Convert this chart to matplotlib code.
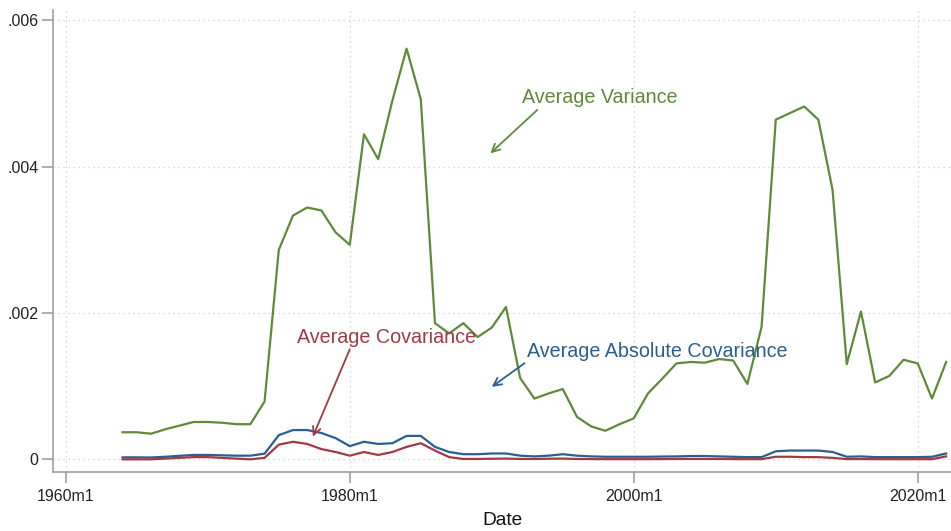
import numpy as np
import matplotlib.pyplot as plt

plt.rcParams['font.family'] = ['Liberation Sans', 'DejaVu Sans']

################################
# Data (annual)
################################
years = list(range(1964, 2023))

avg_variance = [
    0.00037, 0.00037, 0.00035, 0.00041, 0.00046, 0.00051, 0.00051, 0.00050, 0.00048, 0.00048,  # 1964-1973
    0.00079, 0.00286, 0.00333, 0.00344, 0.00340, 0.00310, 0.00293, 0.00444, 0.00410, 0.00490,  # 1974-1983
    0.00561, 0.00492, 0.00186, 0.00172, 0.00186, 0.00167, 0.00180, 0.00208, 0.00111, 0.00083,  # 1984-1993
    0.00090, 0.00096, 0.00058, 0.00045, 0.00039, 0.00048, 0.00056, 0.00090, 0.00110, 0.00131,  # 1994-2003
    0.00133, 0.00132, 0.00137, 0.00135, 0.00103, 0.00181, 0.00464, 0.00473, 0.00482, 0.00464,  # 2004-2013
    0.00368, 0.00130, 0.00202, 0.00105, 0.00114, 0.00136, 0.00131, 0.00083, 0.00133,           # 2014-2022
]

avg_abs_covariance = [
    0.000027, 0.000027, 0.000025, 0.000035, 0.000048, 0.000060, 0.000060, 0.000055, 0.000050, 0.000050,
    0.000077, 0.000330, 0.000400, 0.000400, 0.000360, 0.000290, 0.000180, 0.000240, 0.000210, 0.000220,
    0.000320, 0.000320, 0.000170, 0.000100, 0.000070, 0.000070, 0.000080, 0.000080, 0.000050, 0.000040,
    0.000050, 0.000070, 0.000050, 0.000040, 0.000035, 0.000035, 0.000035, 0.000035, 0.000038, 0.000040,
    0.000045, 0.000045, 0.000040, 0.000035, 0.000030, 0.000030, 0.000110, 0.000120, 0.000120, 0.000120,
    0.000100, 0.000035, 0.000040, 0.000030, 0.000030, 0.000030, 0.000030, 0.000035, 0.000080,
]

avg_covariance = [
    0.000000, 0.000000, 0.000000, 0.000010, 0.000020, 0.000030, 0.000030, 0.000020, 0.000010, 0.000000,
    0.000020, 0.000200, 0.000240, 0.000210, 0.000140, 0.000100, 0.000050, 0.000100, 0.000060, 0.000100,
    0.000170, 0.000220, 0.000120, 0.000030, 0.000005, 0.000005, 0.000008, 0.000010, 0.000005, 0.000005,
    0.000008, 0.000010, 0.000005, 0.000003, 0.000002, 0.000002, 0.000002, 0.000002, 0.000003, 0.000005,
    0.000005, 0.000005, 0.000005, 0.000003, 0.000002, 0.000002, 0.000035, 0.000035, 0.000030, 0.000030,
    0.000020, 0.000003, 0.000003, 0.000002, 0.000002, 0.000002, 0.000002, 0.000002, 0.000040,
]

xticks = [1960, 1980, 2000, 2020]
xtick_labels = ['1960m1', '1980m1', '2000m1', '2020m1']
yticks = [0, 0.002, 0.004, 0.006]
ytick_labels = ['0', '.002', '.004', '.006']

green = '#5f8a3a'
blue = '#2b5e91'
red = '#a03a45'
axis_grey = '#a0a0a0'

################################
# Plot
################################
fig = plt.figure(figsize=(9.51, 5.31), dpi=100)
ax = fig.add_axes([53/951, (531-471.7)/531, (951-53)/951, (471.7-10)/531])

ax.plot(years, avg_variance, color=green, lw=1.6)
ax.plot(years, avg_abs_covariance, color=blue, lw=1.6)
ax.plot(years, avg_covariance, color=red, lw=1.6)

ax.set_xlim(1959.1, 2022.34)
ax.set_ylim(-0.000169, 0.006138)

ax.set_xticks(xticks)
ax.set_xticklabels(xtick_labels)
ax.set_yticks(yticks)
ax.set_yticklabels(ytick_labels)

for s in ['top', 'right']:
    ax.spines[s].set_visible(False)
for s in ['left', 'bottom']:
    ax.spines[s].set_color(axis_grey)
    ax.spines[s].set_linewidth(1.2)
ax.tick_params(colors=axis_grey, labelcolor='#222222', labelsize=11.5, length=8, width=1.2)
ax.tick_params(axis='y', pad=2.5)
ax.tick_params(axis='x', pad=4.5)
ax.grid(True, linestyle=(0, (1, 3)), color='#cccccc', lw=0.9)
ax.set_xlabel('Date', fontsize=13.8, color='#111111', labelpad=6)

# annotations
ax.annotate('Average Variance', xy=(1989.9, 0.00418), xytext=(1992.1, 0.00494),
            color=green, fontsize=14.2, va='center', ha='left',
            arrowprops=dict(arrowstyle='->', color=green, lw=1.3,
                            shrinkA=0, shrinkB=0, relpos=(0.12, 0.0)))
ax.annotate('Average Covariance', xy=(1977.4, 0.00031), xytext=(1976.3, 0.00167),
            color=red, fontsize=14.2, va='center', ha='left',
            arrowprops=dict(arrowstyle='->', color=red, lw=1.3,
                            shrinkA=0, shrinkB=0, relpos=(0.30, 0.0)))
ax.annotate('Average Absolute Covariance', xy=(1990.0, 0.00099), xytext=(1992.5, 0.00147),
            color=blue, fontsize=14.2, va='center', ha='left',
            arrowprops=dict(arrowstyle='->', color=blue, lw=1.3,
                            shrinkA=0, shrinkB=0, relpos=(0.0, 0.0)))

fig.savefig('out.png', dpi=100)
